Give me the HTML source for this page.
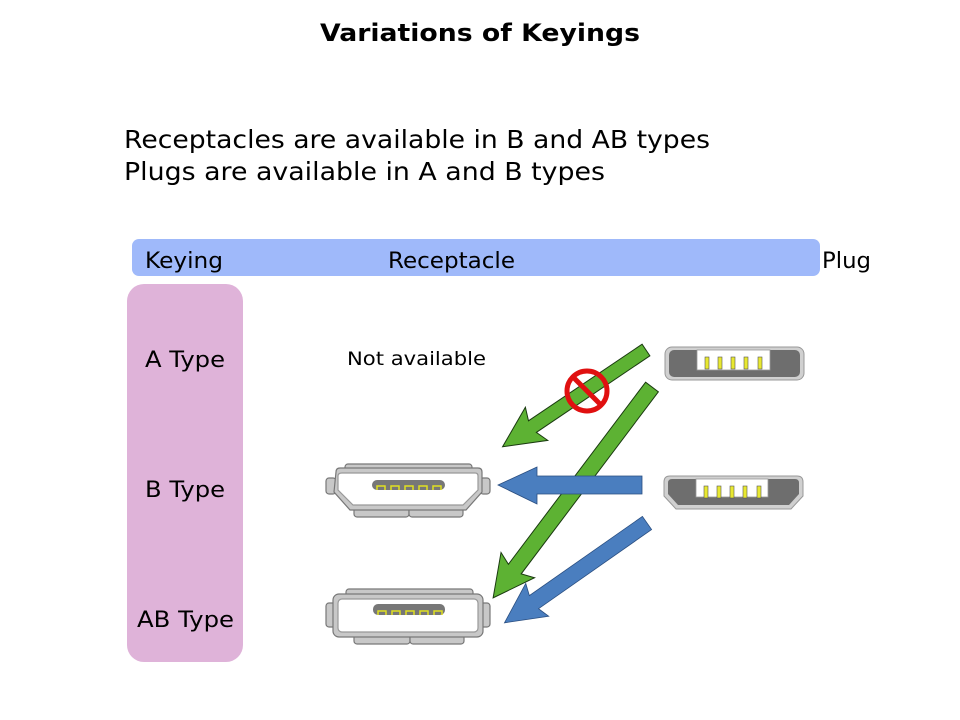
<!DOCTYPE html>
<html><head><meta charset="utf-8"><style>
html,body{margin:0;padding:0;background:#fff;}
svg{display:block;}
text{font-family:"DejaVu Sans","Liberation Sans",sans-serif;fill:#000;}
</style></head><body>
<svg width="960" height="720" viewBox="0 0 960 720" xmlns="http://www.w3.org/2000/svg">
<text x="320" y="41" font-size="24" font-weight="bold" textLength="320" lengthAdjust="spacingAndGlyphs">Variations of Keyings</text>
<text x="124" y="148" font-size="25" textLength="586" lengthAdjust="spacingAndGlyphs">Receptacles are available in B and AB types</text>
<text x="124" y="180" font-size="25" textLength="481" lengthAdjust="spacingAndGlyphs">Plugs are available in A and B types</text>

<rect x="132" y="239" width="688" height="37" rx="7" fill="#9fb9fa"/>
<text x="145" y="268" font-size="22" textLength="78" lengthAdjust="spacingAndGlyphs">Keying</text>
<text x="388" y="268" font-size="22" textLength="127" lengthAdjust="spacingAndGlyphs">Receptacle</text>
<text x="822" y="268" font-size="22" textLength="49" lengthAdjust="spacingAndGlyphs">Plug</text>

<rect x="127" y="284" width="116" height="378" rx="17" fill="#dfb3d9"/>
<text x="145" y="367" font-size="22" textLength="80" lengthAdjust="spacingAndGlyphs">A Type</text>
<text x="145" y="497" font-size="22" textLength="80" lengthAdjust="spacingAndGlyphs">B Type</text>
<text x="137" y="627" font-size="22" textLength="97" lengthAdjust="spacingAndGlyphs">AB Type</text>

<text x="347" y="365" font-size="19" textLength="139" lengthAdjust="spacingAndGlyphs">Not available</text>

<!-- B receptacle -->
<g stroke="#777" stroke-width="1.2" fill="#c8c8c8">
<rect x="345" y="464" width="127" height="9" rx="3"/>
<rect x="354" y="504" width="55" height="13" rx="3"/>
<rect x="409" y="504" width="54" height="13" rx="3"/>
<rect x="326" y="478" width="10" height="16" rx="3"/>
<rect x="480" y="478" width="10" height="16" rx="3"/>
<path d="M336 472 Q336 468 340 468 L478 468 Q482 468 482 472 L482 492 L466 510 L350 510 L334 492 Z"/>
<path d="M342 473 L475 473 Q478 473 478 476 L478 490 L463 505 L353 505 L338 490 L338 476 Q338 473 342 473 Z" fill="#fff" stroke="#999"/>
</g>
<rect x="372" y="480" width="73" height="10" rx="5" fill="#777"/>
<path d="M377 490 V486 H385 V490 M391 490 V486 H399 V490 M405 490 V486 H413 V490 M419 490 V486 H427 V490 M433 490 V486 H441 V490" stroke="#e0e020" stroke-width="1.5" fill="none"/>

<!-- AB receptacle -->
<g stroke="#777" stroke-width="1.2" fill="#c8c8c8">
<rect x="346" y="589" width="127" height="9" rx="3"/>
<rect x="354" y="630" width="56" height="14" rx="3"/>
<rect x="410" y="630" width="54" height="14" rx="3"/>
<rect x="326" y="603" width="10" height="24" rx="3"/>
<rect x="480" y="603" width="10" height="24" rx="3"/>
<rect x="333" y="594" width="150" height="43" rx="6"/>
<rect x="338" y="599" width="140" height="33" rx="4" fill="#fff" stroke="#999"/>
</g>
<rect x="373" y="604" width="72" height="11" rx="5" fill="#777"/>
<path d="M378 615 V611 H386 V615 M392 615 V611 H400 V615 M406 615 V611 H414 V615 M420 615 V611 H428 V615 M434 615 V611 H442 V615" stroke="#e0e020" stroke-width="1.5" fill="none"/>

<!-- Plug A -->
<rect x="665" y="347" width="139" height="33" rx="7" fill="#d0d0d0" stroke="#999"/>
<rect x="669" y="350" width="131" height="27" rx="5" fill="#6e6e6e"/>
<rect x="697" y="350" width="73" height="20" fill="#fff" stroke="#999" stroke-width="0.8"/>
<g fill="#e8e830" stroke="#555" stroke-width="0.6">
<rect x="705" y="357" width="4" height="12"/><rect x="718" y="357" width="4" height="12"/><rect x="731" y="357" width="4" height="12"/><rect x="744" y="357" width="4" height="12"/><rect x="758" y="357" width="4" height="12"/>
</g>

<!-- Plug B -->
<path d="M670 476 L797 476 Q803 476 803 482 L803 496 L791 509 L676 509 L664 496 L664 482 Q664 476 670 476 Z" fill="#d0d0d0" stroke="#999"/>
<path d="M672 479 L795 479 Q799 479 799 483 L799 494 L789 505 L678 505 L668 494 L668 483 Q668 479 672 479 Z" fill="#6e6e6e"/>
<rect x="696" y="479" width="72" height="18" fill="#fff" stroke="#999" stroke-width="0.8"/>
<g fill="#e8e830" stroke="#555" stroke-width="0.6">
<rect x="704" y="486" width="4" height="12"/><rect x="717" y="486" width="4" height="12"/><rect x="730" y="486" width="4" height="12"/><rect x="743" y="486" width="4" height="12"/><rect x="757" y="486" width="4" height="12"/>
</g>

<!-- Arrows -->
<g stroke="#1a3a10" stroke-width="1" fill="#5db233" stroke-linejoin="miter">
<polygon transform="translate(646,350) rotate(146)" points="0,-7 137,-7 132,-20 173,0 132,20 137,7 0,7"/>
<polygon transform="translate(652,387) rotate(127)" points="0,-8 228,-8 223,-21 264,0 223,21 228,8 0,8"/>
</g>
<polygon points="642,476 537,476 537,467 498,485 537,504 537,494 642,494" fill="#4a7ebf" stroke="#2a4e80" stroke-width="0.8"/>
<polygon transform="translate(647,523) rotate(145)" points="0,-8 138,-8 134,-20 174,0 134,20 138,8 0,8" fill="#4a7ebf" stroke="#2a4e80" stroke-width="0.8"/>

<!-- prohibition -->
<circle cx="587" cy="391" r="20" fill="none" stroke="#e01010" stroke-width="5"/>
<line x1="573" y1="377" x2="601" y2="405" stroke="#e01010" stroke-width="5"/>
</svg>
</body></html>
